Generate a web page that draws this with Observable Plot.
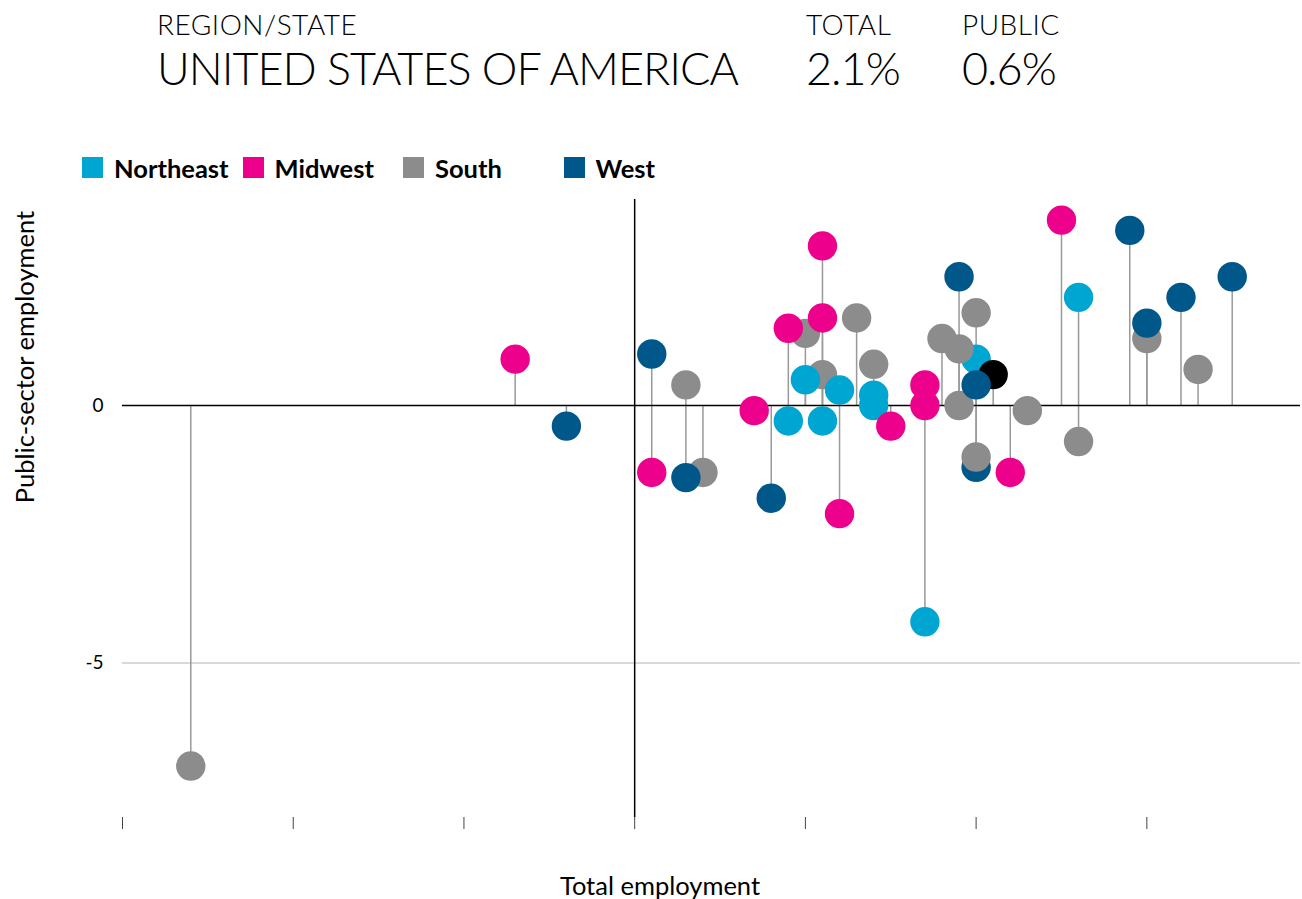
<!DOCTYPE html>
<html><head><meta charset="utf-8">
<script src="https://cdn.jsdelivr.net/npm/d3@7"></script>
<script src="https://cdn.jsdelivr.net/npm/@observablehq/plot@0.6"></script>
<style>
body{margin:0;background:#fff;font-family:Lato,sans-serif;width:1302px;height:899px;position:relative;overflow:hidden}
.abs{position:absolute;white-space:nowrap;color:#000;line-height:1}
#chart{position:absolute;left:0;top:180px}
.sw{position:absolute;width:21px;height:21px}
</style></head><body>
<div id="hdr"></div>
<div id="legend"></div>
<div id="chart"></div>
<div class="abs" id="xlab" style="left:660px;top:873px;font-size:25.5px;transform:translateX(-50%)"></div>
<div class="abs" id="ylab" style="left:25px;top:357px;font-size:25.5px;transform:translate(-50%,-50%) rotate(-90deg)"></div>
<script>
// ---- data ----
const headerLabels = ["REGION/STATE", "TOTAL", "PUBLIC"];
const headerValues = ["UNITED STATES OF AMERICA", "2.1%", "0.6%"];
const regionNames = ["Northeast", "Midwest", "South", "West"];
const regionColors = ["#00a6d2", "#ec008c", "#8c8c8c", "#00578a"];
const xTicks = [-3, -2, -1, 0, 1, 2, 3];
const yTicks = [0, -5];
const xLabel = "Total employment";
const yLabel = "Public-sector employment";

// drawing order (later on top)
const regionOf = [
  "South","South","South","South","South","South","South","South","South","South","South","South","South","South",
  "Northeast","Northeast","Northeast","Northeast","Northeast","Northeast","Northeast","Northeast","Northeast",
  "Midwest","Midwest","Midwest","Midwest","Midwest","Midwest","Midwest","Midwest","Midwest","Midwest","Midwest","Midwest",
  "South",
  "West","West","West","West","West","West","West","West","West","West",
  "South",
  "United States",
  "West"
];
const totalEmp = [
  -2.6, 0.3, 0.4, 1.0, 1.1, 1.3, 1.4, 1.8, 1.9, 2.0, 2.3, 2.6, 3.0, 3.3,
  0.9, 1.0, 1.1, 1.2, 1.4, 1.4, 1.7, 2.0, 2.6,
  -0.7, 0.1, 0.7, 0.9, 1.1, 1.1, 1.2, 1.5, 1.7, 1.7, 2.2, 2.5,
  1.9,
  -0.4, 0.1, 0.3, 0.8, 1.9, 2.0, 2.9, 3.0, 3.2, 3.5,
  2.0,
  2.1,
  2.0
];
const publicEmp = [
  -7.0, 0.4, -1.3, 1.4, 0.6, 1.7, 0.8, 1.3, 0.0, 1.8, -0.1, -0.7, 1.3, 0.7,
  -0.3, 0.5, -0.3, 0.3, 0.2, 0.0, -4.2, 0.9, 2.1,
  0.9, -1.3, -0.1, 1.5, 3.1, 1.7, -2.1, -0.4, 0.4, 0.0, -1.3, 3.6,
  1.1,
  -0.4, 1.0, -1.4, -1.8, 2.5, -1.2, 3.4, 1.6, 2.1, 2.5,
  -1.0,
  0.6,
  0.4
];

const data = regionOf.map((r, i) => ({region: r, total: totalEmp[i], pub: publicEmp[i]}));

// ---- header ----
const hdr = document.getElementById("hdr");
const hx = [157, 806, 962];
headerLabels.forEach((t, i) => {
  const d = document.createElement("div");
  d.className = "abs"; d.textContent = t;
  d.style.cssText = `left:${hx[i]}px;top:10px;font-size:28px;font-weight:300;letter-spacing:0.5px`;
  hdr.appendChild(d);
});
headerValues.forEach((t, i) => {
  const d = document.createElement("div");
  d.className = "abs"; d.textContent = t;
  d.style.cssText = `left:${hx[i]}px;top:46px;font-size:45px;font-weight:300;letter-spacing:-1px`;
  hdr.appendChild(d);
});

// ---- legend ----
const lg = document.getElementById("legend");
regionNames.forEach((n, i) => {
  const x0 = 82 + i * 160.5;
  const s = document.createElement("div");
  s.className = "sw"; s.style.left = x0 + "px"; s.style.top = "157px"; s.style.background = regionColors[i];
  lg.appendChild(s);
  const t = document.createElement("div");
  t.className = "abs"; t.textContent = n;
  t.style.cssText = `left:${x0 + 32}px;top:156px;font-size:25.5px;font-weight:700`;
  lg.appendChild(t);
});

document.getElementById("xlab").textContent = xLabel;
document.getElementById("ylab").textContent = yLabel;

// ---- chart ----
const chart = Plot.plot({
  width: 1302,
  height: 719,
  marginTop: 19,
  marginBottom: 82,
  marginLeft: 122,
  marginRight: 2,
  x: {domain: [-3, 3.9]},
  y: {domain: [-8, 4]},
  color: {domain: [...regionNames, "United States"], range: [...regionColors, "#000000"]},
  style: {fontFamily: "Lato, sans-serif", fontSize: "19px", color: "#000", background: "transparent"},
  marks: [
    Plot.ruleY([-5], {stroke: "#cccccc", strokeWidth: 1.5}),
    Plot.ruleX([0], {stroke: "#000", strokeWidth: 1.5}),
    Plot.ruleX(data, {x: "total", y1: 0, y2: "pub", stroke: "#999", strokeWidth: 1.5}),
    Plot.ruleY([0], {stroke: "#000", strokeWidth: 1.5}),
    Plot.dot(data, {x: "total", y: "pub", r: 14.7, fill: "region", stroke: null}),
    Plot.axisX({ticks: xTicks, tickFormat: () => "", tickSize: 12, stroke: "#444", strokeWidth: 1, label: null}),
    Plot.axisY({ticks: yTicks, tickFormat: d => String(d), tickSize: 0, tickPadding: 19, label: null, fontSize: 19})
  ]
});
document.getElementById("chart").appendChild(chart);
</script>
</body></html>
